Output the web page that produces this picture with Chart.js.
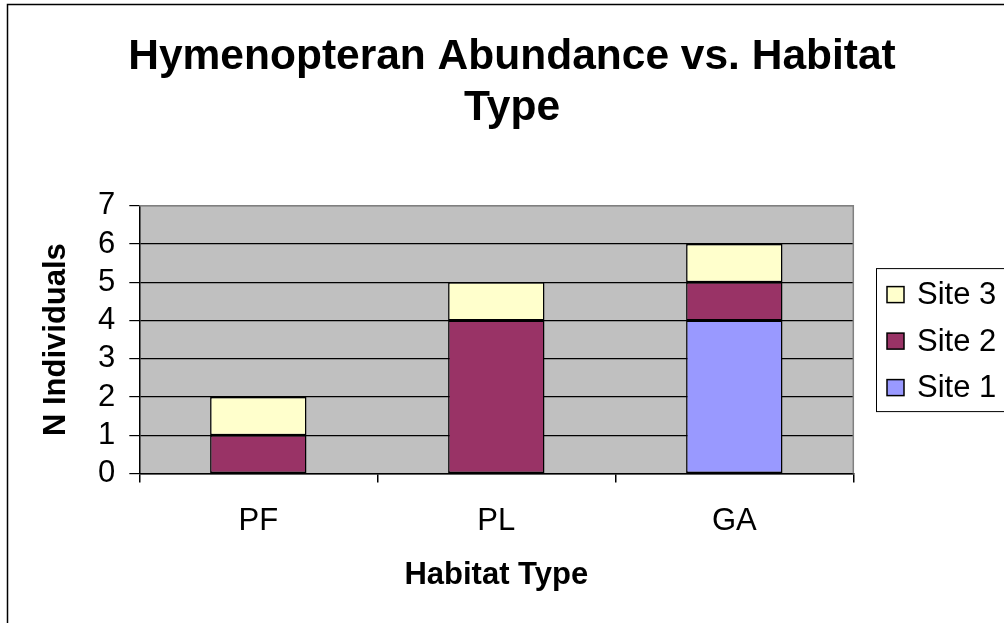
<!DOCTYPE html>
<html>
<head>
<meta charset="utf-8">
<script src="https://cdn.jsdelivr.net/npm/chart.js@4/dist/chart.umd.min.js"></script>
<style>
  html, body { margin: 0; padding: 0; background: #fff; }
  #wrap { width: 1004px; height: 623px; position: relative; }
</style>
</head>
<body>
<div id="wrap"><canvas id="habitatChart"></canvas></div>
<script>
// Data
const habitats = ['PF', 'PL', 'GA'];
const site1 = [0, 0, 4];
const site2 = [1, 4, 1];
const site3 = [1, 1, 1];
const seriesNames = ['Site 1', 'Site 2', 'Site 3'];
const seriesColors = ['#9999FF', '#993366', '#FFFFCC'];
const yMin = 0;
const yMax = 7;

const FONT = '"Liberation Sans", Arial, sans-serif';

// Grey plot background, grey top/right frame, outer chart border
const framePlugin = {
    id: 'frame',
    beforeDraw(chart) {
        const ctx = chart.ctx;
        const a = chart.chartArea;
        ctx.save();
        ctx.fillStyle = '#ffffff';
        ctx.fillRect(0, 0, chart.width, chart.height);
        ctx.fillStyle = '#C0C0C0';
        ctx.fillRect(a.left, a.top, a.right - a.left, a.bottom - a.top);
        ctx.strokeStyle = '#000';
        ctx.lineWidth = 1.5;
        ctx.strokeRect(7.5, 4.5, 1100, 700);
        ctx.restore();
    },
    beforeDatasetsDraw(chart) {
        const ctx = chart.ctx;
        const a = chart.chartArea;
        ctx.save();
        ctx.strokeStyle = '#808080';
        ctx.lineWidth = 1.5;
        ctx.beginPath();
        ctx.moveTo(a.left, a.top);
        ctx.lineTo(a.right, a.top);
        ctx.lineTo(a.right, a.bottom);
        ctx.stroke();
        ctx.restore();
    }
};

// Boxed legend on the right, listed top-down in reverse stack order
const boxLegendPlugin = {
    id: 'boxLegend',
    afterDraw(chart) {
        const ctx = chart.ctx;
        const a = chart.chartArea;
        const sets = chart.data.datasets.slice().reverse();
        const rowH = 46.5;
        const boxTop = (a.top + a.bottom) / 2 - 71.5;
        const boxLeft = 876;
        ctx.save();
        ctx.strokeStyle = '#000';
        ctx.lineWidth = 1;
        ctx.strokeRect(boxLeft + 0.5, boxTop + 0.5, 200, 143);
        ctx.font = '31px ' + FONT;
        ctx.textBaseline = 'middle';
        ctx.textAlign = 'left';
        sets.forEach((ds, i) => {
            const cy = boxTop + 26.5 + i * rowH;
            ctx.fillStyle = ds.backgroundColor;
            ctx.fillRect(887, cy - 8, 17, 16);
            ctx.strokeStyle = '#000';
            ctx.lineWidth = 1.5;
            ctx.strokeRect(887, cy - 8, 17, 16);
            ctx.fillStyle = '#000';
            ctx.fillText(ds.label, 917, cy + 1);
        });
        ctx.restore();
    }
};

const datasets = [site1, site2, site3].map((vals, i) => ({
    label: seriesNames[i],
    data: vals,
    backgroundColor: seriesColors[i],
    borderColor: '#000',
    borderWidth: 1.5,
    borderSkipped: false,
    categoryPercentage: 1,
    barPercentage: 0.405
}));

new Chart(document.getElementById('habitatChart'), {
    type: 'bar',
    data: { labels: habitats, datasets: datasets },
    plugins: [framePlugin, boxLegendPlugin],
    options: {
        responsive: true,
        maintainAspectRatio: false,
        animation: false,
        layout: { padding: { left: 20, right: 0, top: 0, bottom: 0 } },
        plugins: {
            legend: { display: false },
            tooltip: { enabled: false },
            title: {
                display: true,
                text: ['Hymenopteran Abundance vs. Habitat', 'Type'],
                color: '#000',
                font: { family: FONT, size: 42.5, weight: 'bold', lineHeight: 1.2 },
                padding: { top: 32, bottom: 71.7 }
            }
        },
        scales: {
            x: {
                stacked: true,
                afterFit(scale) { scale.height = 149.5; },
                grid: {
                    drawOnChartArea: false,
                    drawTicks: true,
                    tickLength: 9,
                    color: '#000',
                    lineWidth: 1.5
                },
                border: { display: true, color: '#000', width: 1.5 },
                ticks: {
                    color: '#000',
                    font: { family: FONT, size: 31 },
                    padding: 20
                },
                title: {
                    display: true,
                    text: 'Habitat Type',
                    color: '#000',
                    font: { family: FONT, size: 31, weight: 'bold', lineHeight: 1.2 },
                    padding: { top: 0, bottom: 29 }
                }
            },
            y: {
                stacked: true,
                min: yMin,
                max: yMax,
                afterFit(scale) { scale.width = 119.3; },
                grid: {
                    color: ctx => (ctx.tick && ctx.tick.value === yMax ? '#808080' : '#000'),
                    tickColor: '#000',
                    lineWidth: 1.2,
                    drawTicks: true,
                    tickLength: 10
                },
                border: { display: true, color: '#000', width: 1.5 },
                ticks: {
                    stepSize: 1,
                    autoSkip: false,
                    color: '#000',
                    font: { family: FONT, size: 31 },
                    padding: 14
                },
                title: {
                    display: true,
                    text: 'N Individuals',
                    color: '#000',
                    font: { family: FONT, size: 31, weight: 'bold', lineHeight: 1.2 },
                    padding: { top: 18, bottom: 0 }
                }
            },
            // empty right-hand scale that only reserves room for the legend box
            legendSpace: {
                type: 'linear',
                position: 'right',
                afterFit(scale) { scale.width = 150.7; },
                grid: { display: false, drawTicks: false },
                border: { display: false },
                ticks: { display: false }
            }
        }
    }
});
</script>
</body>
</html>
